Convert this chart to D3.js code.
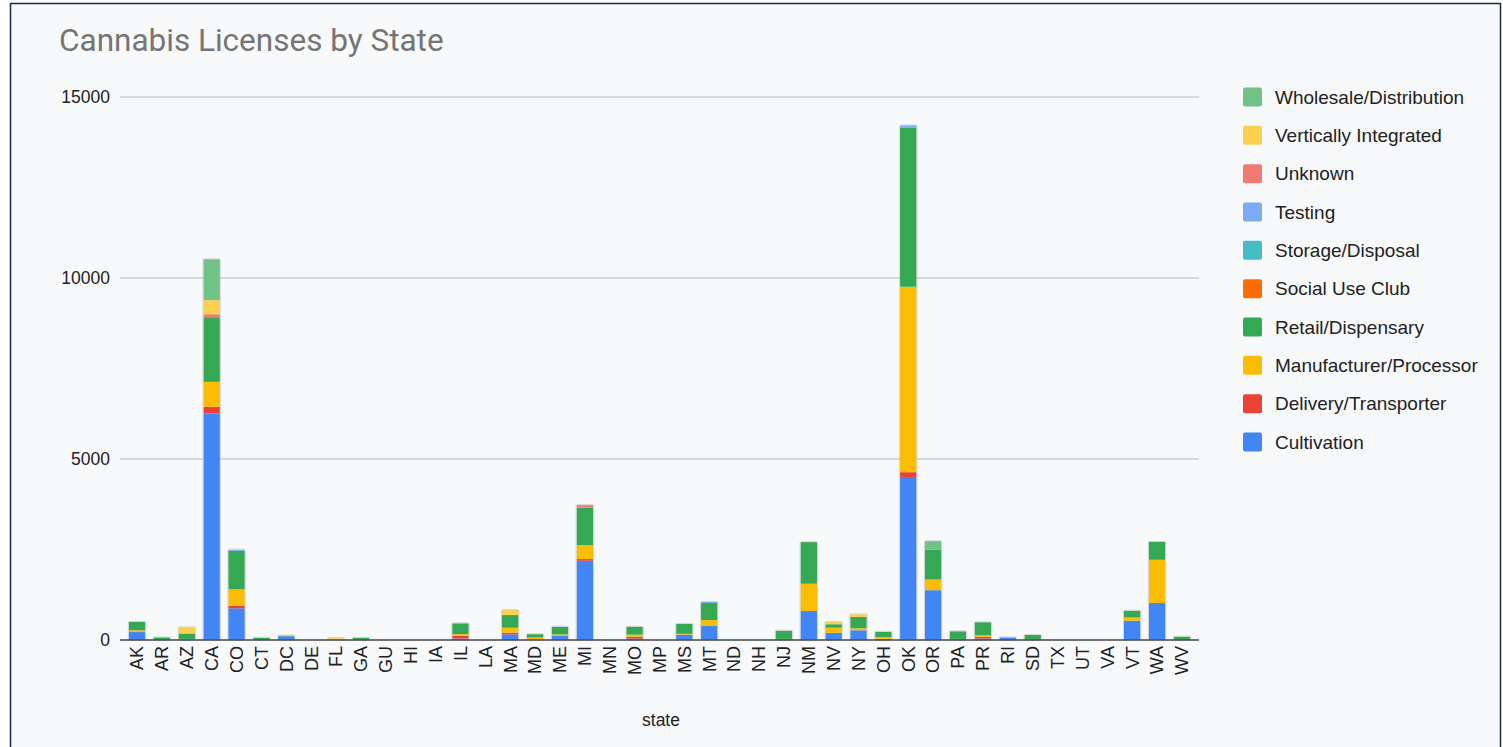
<!DOCTYPE html>
<html>
<head>
<meta charset="utf-8">
<script src="https://cdn.jsdelivr.net/npm/d3@7"></script>
<style>
  html, body { margin: 0; padding: 0; background: #ffffff; }
  svg { display: block; }
</style>
</head>
<body>
<svg id="chart" width="1503" height="747"></svg>
<script>
// ---------- DATA ----------
const states = ["AK","AR","AZ","CA","CO","CT","DC","DE","FL","GA","GU","HI","IA","IL","LA","MA","MD","ME","MI","MN","MO","MP","MS","MT","ND","NH","NJ","NM","NV","NY","OH","OK","OR","PA","PR","RI","SD","TX","UT","VA","VT","WA","WV"];

const seriesNames = ["Cultivation","Delivery/Transporter","Manufacturer/Processor","Retail/Dispensary","Social Use Club","Storage/Disposal","Testing","Unknown","Vertically Integrated","Wholesale/Distribution"];

//                       AK  AR  AZ   CA   CO  CT  DC DE FL GA GU HI IA IL LA  MA  MD  ME   MI MN MO MP  MS  MT ND NH NJ  NM  NV  NY OH   OK   OR PA PR RI SD TX UT VA  VT   WA WV
const cultivation   = [220,  0, 10,6257, 875,  0,100, 0, 0, 0, 0, 0, 0, 40, 0,157, 20,110,2189, 0, 40, 0,150,386, 0, 0, 30,800,200,270, 30,4503,1376,30,40,70, 0, 0, 0, 0,533,1021, 0];
const delivery      = [  0,  0,  0, 184,  72,  0,  0, 0, 0, 0, 0, 0, 0, 80, 0, 44,  0,  0,  47, 0, 50, 0,  0,  0, 0, 0,  0,  0,  0,  0,  0, 133,   0, 0,50, 0, 0, 0, 0, 0,  0,   0, 0];
const manufacturer  = [ 50,  0, 20, 690, 453,  0,  0, 0, 0, 0, 0, 0, 0, 40, 0,138, 50, 45, 386, 0, 60, 0, 20,165, 0, 0,  0,754,140, 55, 50,5122, 295, 0,40, 0, 0, 0, 0, 0, 90,1195, 0];
const retail        = [230, 70,150,1786,1065, 60, 20, 0, 0,60, 0, 0, 0,300, 0,350, 90,210,1030, 0,215, 0,275,470, 0, 0,225,1150,95,310,145,4400, 820,210,360,0,140,0, 0, 0,185, 494,90];
const socialUse     = [  0,  0,  0,   0,   0,  0,  0, 0, 0, 0, 0, 0, 0,  0, 0,  0,  0,  0,   0, 0,  0, 0,  0,  0, 0, 0,  0,  0,  0,  0,  0,   0,   0, 0, 0, 0, 0, 0, 0, 0,  0,   0, 0];
const storage       = [  0,  0,  0,   0,   0,  0,  0, 0, 0, 0, 0, 0, 0,  0, 0,  0,  0,  0,   0, 0,  0, 0,  0,  0, 0, 0,  0,  0,  0,  0,  0,   0,   0, 0, 0, 0, 0, 0, 0, 0,  0,   0, 0];
const testing       = [  0,  0,  0,   0,  30,  0,  0, 0, 0, 0, 0, 0, 0,  0, 0,  0,  0,  0,   0, 0,  0, 0,  0, 30, 0, 0,  0,  0,  0,  0,  0,  57,   0, 0, 0, 0, 0, 0, 0, 0,  0,   0, 0];
const unknown       = [  0,  0,  0,  83,   0,  0,  0, 0, 0, 0, 0, 0, 0,  0, 0,  0,  0,  0,  75, 0,  0, 0,  0,  0, 0, 0,  0,  0,  0,  0,  0,   0,   0, 0, 0, 0, 0, 0, 0, 0,  0,   0, 0];
const vertical      = [  0,  0,170, 386,   0,  0,  0, 0,50, 0, 0, 0, 0,  0, 0,138,  0,  0,   0, 0,  0, 0,  0,  0, 0, 0,  0,  0, 65, 75,  0,   0,   0, 0, 0, 0, 0, 0, 0, 0,  0,   0, 0];
const wholesale     = [  0,  0,  0,1132,   0,  0,  0, 0, 0, 0, 0, 0, 0,  0, 0,  0,  0,  0,   0, 0,  0, 0,  0,  0, 0, 0,  0,  0,  0,  0,  0,   0, 240, 0, 0, 0, 0, 0, 0, 0,  0,   0, 0];

const seriesValues = [cultivation, delivery, manufacturer, retail, socialUse, storage, testing, unknown, vertical, wholesale];
const seriesColors = ["#4285f4","#ea4335","#fbbc04","#34a853","#ff6d01","#46bdc6","#7baaf7","#f07b72","#fcd04f","#71c287"];
const yTicks = [0, 5000, 10000, 15000];

const titleText = "Cannabis Licenses by State";
const xAxisTitle = "state";

// ---------- BUILD TABLE ----------
const table = states.map((s, i) => {
  const row = { state: s };
  seriesNames.forEach((n, k) => { row[n] = seriesValues[k][i]; });
  return row;
});

const svg = d3.select("#chart");

// background + frame
svg.append("rect").attr("x", 0).attr("y", 0).attr("width", 1503).attr("height", 747).attr("fill", "#ffffff");
svg.append("rect").attr("x", 10.5).attr("y", 3.5).attr("width", 1490).attr("height", 760)
  .attr("fill", "#f8f9fb").attr("stroke", "#1b2a4a").attr("stroke-width", 1.5);

// title
svg.append("text").attr("x", 59).attr("y", 51)
  .attr("font-family", "Roboto, 'Open Sans', sans-serif").attr("font-size", 31.5)
  .attr("fill", "#757575").text(titleText);

// scales
const x = d3.scaleBand().domain(states).range([124.6, 1194.4]).paddingInner(0.34).paddingOuter(0.17);
const y = d3.scaleLinear().domain([0, 15000]).range([640, 97]);

const font = "Arial, 'Liberation Sans', sans-serif";

// y axis labels
const yAxis = d3.axisLeft(y).tickValues(yTicks).tickSize(0).tickPadding(10).tickFormat(d3.format("d"));
const gy = svg.append("g").attr("transform", "translate(120,0)").call(yAxis);
gy.select(".domain").remove();
gy.selectAll("text").attr("font-family", font).attr("font-size", 17.5).attr("fill", "#222").attr("x", -10);

// gridlines
svg.append("g").selectAll("line").data(yTicks.filter(d => d !== 0)).join("line")
  .attr("x1", 120).attr("x2", 1199)
  .attr("y1", d => y(d)).attr("y2", d => y(d))
  .attr("stroke", "#cccccc").attr("stroke-width", 1.5);

// stacks
const stack = d3.stack().keys(seriesNames);
const stacked = stack(table);

const gBars = svg.append("g");
stacked.forEach((layer, k) => {
  gBars.append("g").attr("fill", seriesColors[k])
    .selectAll("rect").data(layer.filter(d => d[1] - d[0] > 0)).join("rect")
    .attr("x", d => x(d.data.state))
    .attr("width", x.bandwidth())
    .attr("y", d => y(d[1]))
    .attr("height", d => y(d[0]) - y(d[1]));
});

// faint outline around each stack
const totals = table.map(r => ({ state: r.state, total: d3.sum(seriesNames, n => r[n]) })).filter(d => d.total > 0);
svg.append("g").selectAll("rect").data(totals).join("rect")
  .attr("x", d => x(d.state) - 0.5)
  .attr("width", x.bandwidth() + 1)
  .attr("y", d => y(d.total) - 0.5)
  .attr("height", d => y(0) - y(d.total) + 0.5)
  .attr("rx", 1.5)
  .attr("fill", "none").attr("stroke", "#c8c8c8").attr("stroke-opacity", 0.7).attr("stroke-width", 1);

// baseline
svg.append("line").attr("x1", 120).attr("x2", 1199).attr("y1", y(0)).attr("y2", y(0))
  .attr("stroke", "#444").attr("stroke-width", 1.5);

// x axis
const xAxis = d3.axisBottom(x).tickSize(0).tickPadding(0);
const gx = svg.append("g").attr("transform", `translate(0,${y(0)})`).call(xAxis);
gx.select(".domain").remove();
gx.selectAll("text")
  .attr("font-family", font).attr("font-size", 18).attr("fill", "#222")
  .attr("text-anchor", "end")
  .attr("transform", "rotate(-90)")
  .attr("x", -6).attr("y", 0).attr("dy", "0.35em");

svg.append("text").attr("x", 661).attr("y", 726).attr("text-anchor", "middle")
  .attr("font-family", font).attr("font-size", 17.5).attr("fill", "#222").text(xAxisTitle);

// legend (top to bottom: reverse order)
const legendItems = seriesNames.map((n, k) => ({ name: n, color: seriesColors[k] })).reverse();
const lg = svg.append("g").selectAll("g").data(legendItems).join("g")
  .attr("transform", (d, i) => `translate(1243,${97 + i * 38.33})`);
lg.append("rect").attr("x", 0).attr("y", -9.5).attr("width", 19).attr("height", 19).attr("rx", 2)
  .attr("fill", d => d.color);
lg.append("text").attr("x", 32).attr("y", 0).attr("dy", "0.35em")
  .attr("font-family", font).attr("font-size", 19).attr("fill", "#222").text(d => d.name);
</script>
</body>
</html>
